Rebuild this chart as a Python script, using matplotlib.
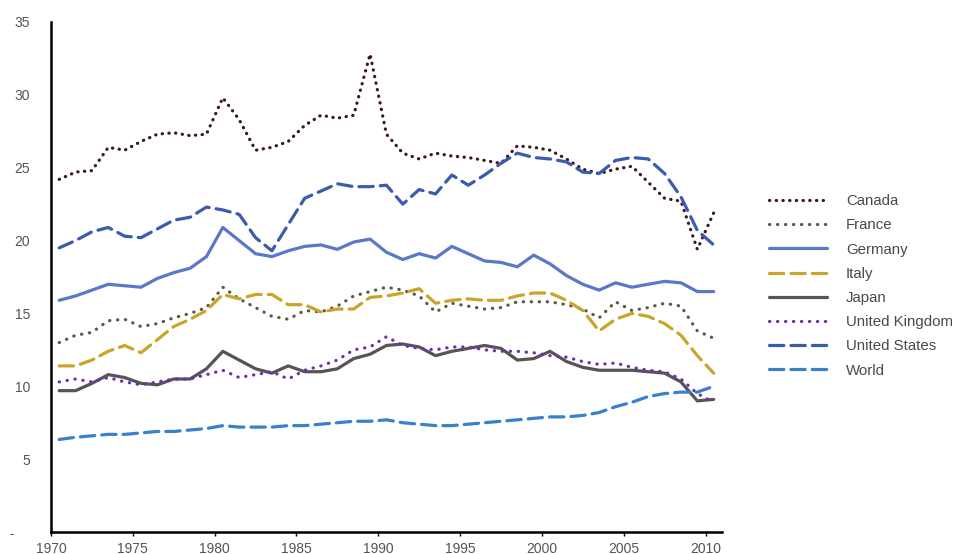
import numpy as np
import matplotlib
matplotlib.use("Agg")
import matplotlib.pyplot as plt

plt.rcParams['font.family'] = ['Liberation Sans', 'DejaVu Sans']

# years 1970..2010, plotted at mid-year
years = np.arange(1970, 2011)

canada = [24.2, 24.7, 24.8, 26.4, 26.2, 26.8, 27.3, 27.4, 27.2, 27.3,
          29.8, 28.3, 26.2, 26.4, 26.8, 27.9, 28.6, 28.4, 28.6, 32.8,
          27.3, 26.0, 25.6, 26.0, 25.8, 25.7, 25.5, 25.3, 26.5, 26.4,
          26.2, 25.6, 24.9, 24.6, 24.9, 25.1, 24.0, 22.9, 22.7, 19.4, 21.9]
france = [13.0, 13.5, 13.7, 14.5, 14.6, 14.1, 14.3, 14.7, 15.0, 15.4,
          16.8, 16.0, 15.4, 14.8, 14.6, 15.2, 15.1, 15.5, 16.2, 16.5,
          16.8, 16.6, 16.2, 15.1, 15.7, 15.5, 15.3, 15.4, 15.8, 15.8,
          15.8, 15.6, 15.3, 14.7, 15.8, 15.2, 15.4, 15.7, 15.5, 13.8, 13.3]
germany = [15.9, 16.2, 16.6, 17.0, 16.9, 16.8, 17.4, 17.8, 18.1, 18.9,
           20.9, 20.0, 19.1, 18.9, 19.3, 19.6, 19.7, 19.4, 19.9, 20.1,
           19.2, 18.7, 19.1, 18.8, 19.6, 19.1, 18.6, 18.5, 18.2, 19.0,
           18.4, 17.6, 17.0, 16.6, 17.1, 16.8, 17.0, 17.2, 17.1, 16.5, 16.5]
italy = [11.4, 11.4, 11.8, 12.4, 12.8, 12.3, 13.2, 14.1, 14.6, 15.2,
         16.3, 16.0, 16.3, 16.3, 15.6, 15.6, 15.1, 15.3, 15.3, 16.1,
         16.2, 16.4, 16.7, 15.7, 15.9, 16.0, 15.9, 15.9, 16.2, 16.4,
         16.4, 15.9, 15.2, 13.8, 14.6, 15.0, 14.8, 14.3, 13.5, 12.1, 10.9]
japan = [9.7, 9.7, 10.2, 10.8, 10.6, 10.2, 10.1, 10.5, 10.5, 11.2,
         12.4, 11.8, 11.2, 10.9, 11.4, 11.0, 11.0, 11.2, 11.9, 12.2,
         12.8, 12.9, 12.7, 12.1, 12.4, 12.6, 12.8, 12.6, 11.8, 11.9,
         12.4, 11.7, 11.3, 11.1, 11.1, 11.1, 11.0, 10.9, 10.3, 9.0, 9.1]
uk = [10.3, 10.5, 10.3, 10.6, 10.3, 10.1, 10.3, 10.5, 10.5, 10.8,
      11.1, 10.6, 10.8, 11.0, 10.5, 11.1, 11.4, 11.8, 12.5, 12.7,
      13.4, 12.8, 12.6, 12.5, 12.7, 12.7, 12.5, 12.4, 12.4, 12.3,
      12.1, 12.0, 11.7, 11.5, 11.6, 11.3, 11.1, 11.0, 10.5, 9.5, 8.9]
us = [19.5, 20.0, 20.6, 20.9, 20.3, 20.2, 20.8, 21.4, 21.6, 22.3,
      22.1, 21.8, 20.2, 19.3, 21.1, 22.9, 23.4, 23.9, 23.7, 23.7,
      23.8, 22.5, 23.5, 23.2, 24.5, 23.8, 24.5, 25.3, 26.0, 25.7,
      25.6, 25.4, 24.7, 24.6, 25.5, 25.7, 25.6, 24.6, 23.0, 20.7, 19.7]
world = [6.35, 6.5, 6.6, 6.7, 6.7, 6.8, 6.9, 6.9, 7.0, 7.1,
         7.3, 7.2, 7.2, 7.2, 7.3, 7.3, 7.4, 7.5, 7.6, 7.6,
         7.7, 7.5, 7.4, 7.3, 7.3, 7.4, 7.5, 7.6, 7.7, 7.8,
         7.9, 7.9, 8.0, 8.2, 8.6, 8.9, 9.3, 9.5, 9.6, 9.6, 10.0]

series = [
    ("Canada", canada, "#3a1820", (0, (0.1, 2.0))),
    ("France", france, "#5a5a44", (0, (0.1, 2.4))),
    ("Germany", germany, "#5a78c8", "-"),
    ("Italy", italy, "#c9a62a", (0, (4.5, 2.2))),
    ("Japan", japan, "#555555", "-"),
    ("United Kingdom", uk, "#6a30b0", (0, (0.1, 2.4))),
    ("United States", us, "#3a5bb0", (0, (4.5, 2.2))),
    ("World", world, "#3a7fd0", (0, (4.5, 2.2))),
]

fig = plt.figure(figsize=(9.57, 5.54), dpi=100)
ax = fig.add_axes([0.0533, 0.0397, 0.701, 0.9206])

x = years + 0.5
for name, vals, col, ls in series:
    ax.plot(x, vals, color=col, linestyle=ls, linewidth=2.3,
            dash_capstyle='round', solid_capstyle='round', label=name)

ax.set_xlim(1970, 2011)
ax.set_ylim(0, 35)
ax.set_xticks(np.arange(1970, 2011, 5))
ax.set_yticks(np.arange(0, 36, 5))
ax.set_yticklabels(["-    "] + [str(v) for v in range(5, 36, 5)])

for s in ["top", "right"]:
    ax.spines[s].set_visible(False)
for s in ["left", "bottom"]:
    ax.spines[s].set_linewidth(1.8)
    ax.spines[s].set_color("black")

ax.tick_params(axis='y', length=0, pad=15, labelsize=10, labelcolor="#555555")
ax.tick_params(axis='x', length=3, width=1, pad=4, labelsize=10, labelcolor="#555555")

ax.legend(loc='center left', bbox_to_anchor=(0.804, 0.484), bbox_transform=fig.transFigure,
          frameon=False, fontsize=10.8, handlelength=3.85, handletextpad=1.25,
          labelspacing=0.68, borderpad=0, borderaxespad=0, labelcolor="#4a4a4a")

fig.savefig("out.png", dpi=100)
